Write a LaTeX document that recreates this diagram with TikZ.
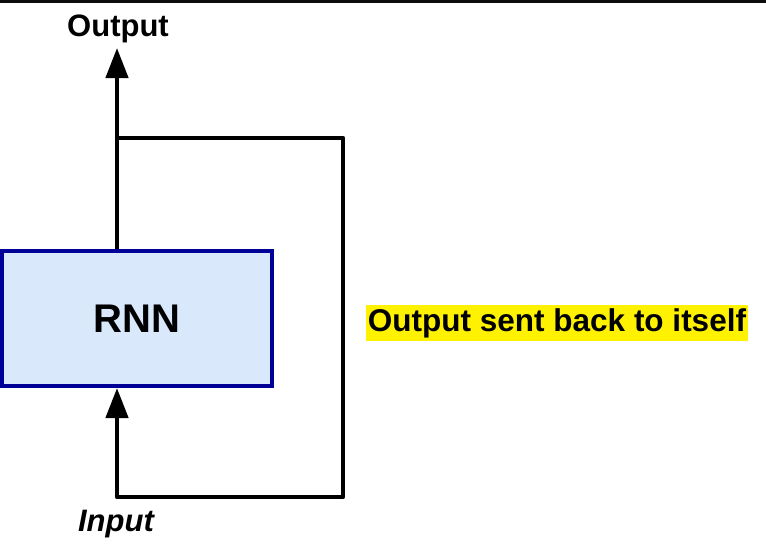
\documentclass[tikz,border=0pt]{standalone}
\usepackage{fontspec}
\setmainfont{Liberation Sans}
\usetikzlibrary{arrows.meta}
\definecolor{boxfill}{HTML}{DAE8FC}
\definecolor{boxdraw}{HTML}{000099}
\begin{document}
\begin{tikzpicture}[x=1pt,y=-1pt,
  wire/.style={line width=4.5pt,line join=round},
  arr/.style={wire,-{Triangle[length=30pt,width=22pt]}},
  lbl/.style={inner sep=0pt,font=\fontsize{31}{36}\selectfont\bfseries}]
\useasboundingbox (0,0) rectangle (766,544);
\fill[black!95] (0,0) rectangle (766,3);
\node[draw=boxdraw,fill=boxfill,line width=4pt,minimum width=270pt,minimum height=135pt,inner sep=0pt,font=\fontsize{40}{46}\selectfont\bfseries] (rnn) at (137,318.5) {RNN};
\node[lbl] (out) at (118,29) {Output};
\node[lbl,font=\fontsize{31}{36}\selectfont\bfseries\itshape] (in) at (116,524) {Input};
\node[fill=yellow,inner xsep=2pt,inner ysep=3pt,font=\fontsize{31.5}{36}\selectfont\bfseries] (note) at (557,323) {Output sent back to itself};
\coordinate (split) at (117,138);
\coordinate (tr) at (343,138);
\coordinate (br) at (343,497);
\coordinate (bl) at (117,497);
\draw[arr] (rnn.north -| split) -- (117,48);
\draw[wire] (split) -- (tr) -- (br) -- (bl) -- (117,460);
\draw[arr] (117,465) -- (rnn.south -| split);
\end{tikzpicture}
\end{document}
